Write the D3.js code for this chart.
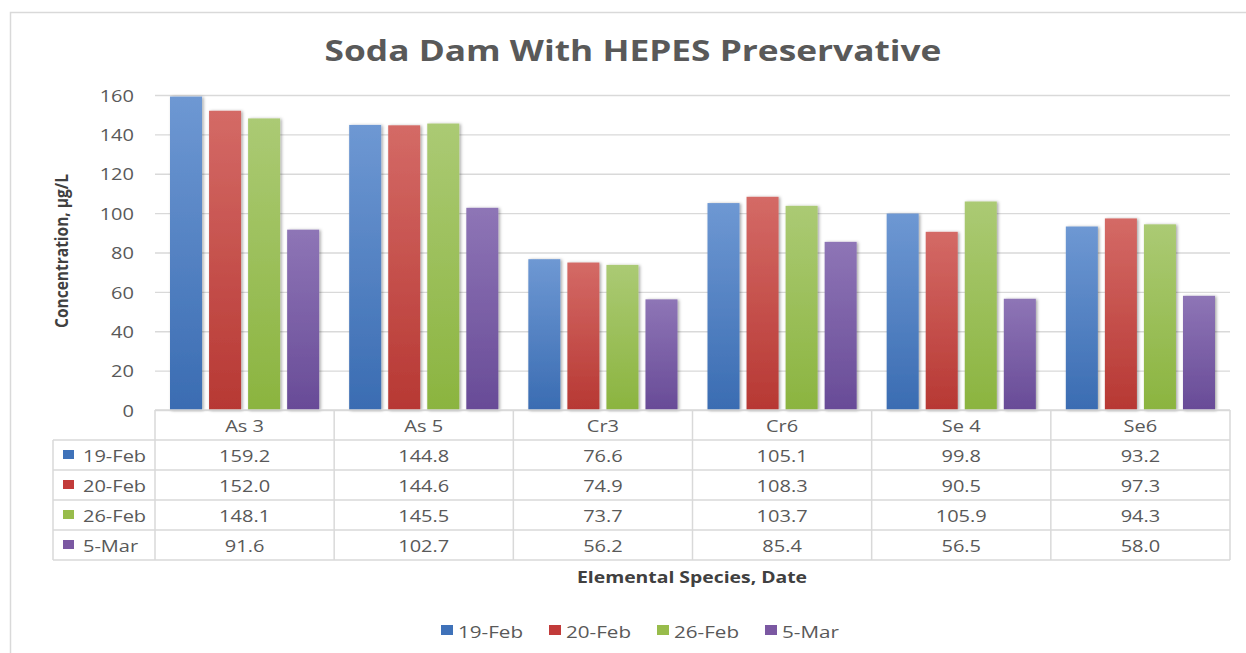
<!DOCTYPE html>
<html>
<head>
<meta charset="utf-8">
<script src="https://cdn.jsdelivr.net/npm/d3@7"></script>
<style>
  html, body { margin: 0; padding: 0; background: #fff; }
  svg { display: block; font-family: "Open Sans", "Liberation Sans", sans-serif; }
</style>
</head>
<body>
<svg id="chart" width="1246" height="653"></svg>
<script>
// Elemental species measured at Soda Dam (x categories)
const categories = ["As 3", "As 5", "Cr3", "Cr6", "Se 4", "Se6"];
// Sampling dates (series)
const seriesNames = ["19-Feb", "20-Feb", "26-Feb", "5-Mar"];
// Concentrations in µg/L, one array per sampling date
const feb19 = [159.2, 144.8, 76.6, 105.1, 99.8, 93.2];
const feb20 = [152.0, 144.6, 74.9, 108.3, 90.5, 97.3];
const feb26 = [148.1, 145.5, 73.7, 103.7, 105.9, 94.3];
const mar5  = [91.6, 102.7, 56.2, 85.4, 56.5, 58.0];
// Y axis ticks
const yTicks = [0, 20, 40, 60, 80, 100, 120, 140, 160];

const seriesValues = [feb19, feb20, feb26, mar5];
const palette = {
  "19-Feb": { top: "#6e98d3", bottom: "#3a6cb2", key: "#3f72b9" },
  "20-Feb": { top: "#d46a66", bottom: "#b73833", key: "#c23b3a" },
  "26-Feb": { top: "#abca74", bottom: "#8bb43f", key: "#98bc4b" },
  "5-Mar":  { top: "#8e75b6", bottom: "#684b97", key: "#7b58a2" }
};

const svg = d3.select("#chart");
const textGray = "#595959";
const lineGray = "#d9d9d9";
const SX = 1.25; // horizontal stretch of the typeface

const plot = { left: 155, right: 1230, top: 95, bottom: 410 };

const y = d3.scaleLinear().domain([0, 160]).range([plot.bottom, plot.top]);
const x0 = d3.scaleBand().domain(categories).range([plot.left, plot.right]);
const x1 = d3.scaleBand().domain(seriesNames)
  .range([15, x0.bandwidth() - 15]).paddingInner(0.18);

// Table rows: header row plus one per series
const rowY = d3.scaleBand().domain(["header", ...seriesNames]).range([410, 560]);
const tableLeft = 53;

// Gradients and bar shadow
const defs = svg.append("defs");
seriesNames.forEach((s, i) => {
  const g = defs.append("linearGradient").attr("id", "grad" + i)
    .attr("x1", 0).attr("y1", 0).attr("x2", 0).attr("y2", 1);
  g.append("stop").attr("offset", "0%").attr("stop-color", palette[s].top);
  g.append("stop").attr("offset", "100%").attr("stop-color", palette[s].bottom);
});
const f = defs.append("filter").attr("id", "shadow")
  .attr("x", "-20%").attr("y", "-5%").attr("width", "150%").attr("height", "115%");
f.append("feDropShadow").attr("dx", 1.5).attr("dy", 0.5).attr("stdDeviation", 1.6)
  .attr("flood-color", "#000").attr("flood-opacity", 0.35);

// Stretched text helper
function stext(parent, x, y0, str, o = {}) {
  const sx = o.sx || SX;
  return parent.append("text")
    .attr("transform", `translate(${x},${y0}) scale(${sx},1)`)
    .attr("text-anchor", o.anchor || "middle")
    .attr("dominant-baseline", o.baseline || "central")
    .attr("font-size", o.size || 16)
    .attr("font-weight", o.weight || "normal")
    .attr("fill", o.fill || textGray)
    .text(str);
}

// Chart frame
svg.append("path")
  .attr("d", "M10.5,653 V12.5 H1246")
  .attr("fill", "none").attr("stroke", lineGray).attr("stroke-width", 1.5);

// Title
const title = svg.append("text")
  .attr("text-anchor", "middle")
  .attr("font-size", 28).attr("font-weight", "bold").attr("fill", textGray)
  .text("Soda Dam With HEPES Preservative");
const tw = title.node().getComputedTextLength();
title.attr("transform", `translate(633,61) scale(${617 / tw},1)`);

// Gridlines
svg.append("g")
  .attr("transform", `translate(${plot.left},0)`)
  .call(d3.axisLeft(y).tickValues(yTicks).tickSize(-(plot.right - plot.left)).tickFormat(""))
  .call(g => g.select(".domain").remove())
  .call(g => g.selectAll("line").attr("stroke", lineGray).attr("stroke-width", 1.3));

// Y axis labels
svg.append("g")
  .attr("transform", "translate(134,0)")
  .call(d3.axisLeft(y).tickValues(yTicks).tickSize(0).tickPadding(0))
  .call(g => g.select(".domain").remove())
  .call(g => g.selectAll("text")
    .attr("x", null).attr("dy", null)
    .attr("transform", `scale(${SX},1)`)
    .attr("dominant-baseline", "central")
    .attr("font-family", "Open Sans, sans-serif")
    .attr("font-size", 16).attr("fill", textGray));

// Y axis title
svg.append("text")
  .attr("transform", "translate(61,251) scale(1.2,1) rotate(-90)")
  .attr("text-anchor", "middle").attr("dominant-baseline", "central")
  .attr("font-size", 15.5).attr("font-weight", "bold").attr("fill", "#404040")
  .text("Concentration, µg/L");

// Bars
const groups = svg.append("g").selectAll("g")
  .data(categories).join("g")
  .attr("transform", d => `translate(${x0(d)},0)`);
groups.selectAll("rect")
  .data((c, ci) => seriesNames.map((s, si) => ({ s, si, v: seriesValues[si][ci] })))
  .join("rect")
  .attr("x", d => x1(d.s))
  .attr("y", d => y(d.v))
  .attr("width", x1.bandwidth())
  .attr("height", d => y(0) - y(d.v))
  .attr("fill", d => `url(#grad${d.si})`)
  .attr("filter", "url(#shadow)");

// Data table
const table = svg.append("g");
const hTop = rowY("header"), hBot = hTop + rowY.bandwidth();
const tBot = rowY(seriesNames[seriesNames.length - 1]) + rowY.bandwidth();
const tl = (x1_, y1_, x2_, y2_) => table.append("line")
  .attr("x1", x1_).attr("y1", y1_).attr("x2", x2_).attr("y2", y2_)
  .attr("stroke", lineGray).attr("stroke-width", 1.5);
// horizontal lines
tl(plot.left, hTop, plot.right, hTop);
seriesNames.forEach(s => tl(tableLeft, rowY(s), plot.right, rowY(s)));
tl(tableLeft, tBot, plot.right, tBot);
// vertical lines
tl(tableLeft, hBot, tableLeft, tBot);
categories.forEach(c => tl(x0(c), hTop, x0(c), tBot));
tl(plot.right, hTop, plot.right, tBot);

// header labels
categories.forEach(c => stext(table, x0(c) + x0.bandwidth() / 2, hTop + rowY.bandwidth() / 2 + 1, c));
// row labels with keys, and values
seriesNames.forEach((s, si) => {
  const cy = rowY(s) + rowY.bandwidth() / 2;
  table.append("rect").attr("x", 63).attr("y", cy - 5).attr("width", 11).attr("height", 9)
    .attr("fill", palette[s].key);
  stext(table, 83, cy + 1, s, { anchor: "start" });
  categories.forEach((c, ci) => {
    stext(table, x0(c) + x0.bandwidth() / 2, cy + 1, seriesValues[si][ci].toFixed(1));
  });
});

// X axis title
stext(svg, 692, 577, "Elemental Species, Date", { size: 15.5, weight: "bold", fill: "#404040", sx: 1.25 });

// Legend
const legend = svg.append("g");
let lx = 441;
seriesNames.forEach(s => {
  legend.append("rect").attr("x", lx).attr("y", 625).attr("width", 12).attr("height", 10)
    .attr("fill", palette[s].key);
  const t = stext(legend, lx + 17, 631, s, { anchor: "start", size: 16.5 });
  lx += 17 + t.node().getComputedTextLength() * SX + 26;
});
</script>
</body>
</html>
